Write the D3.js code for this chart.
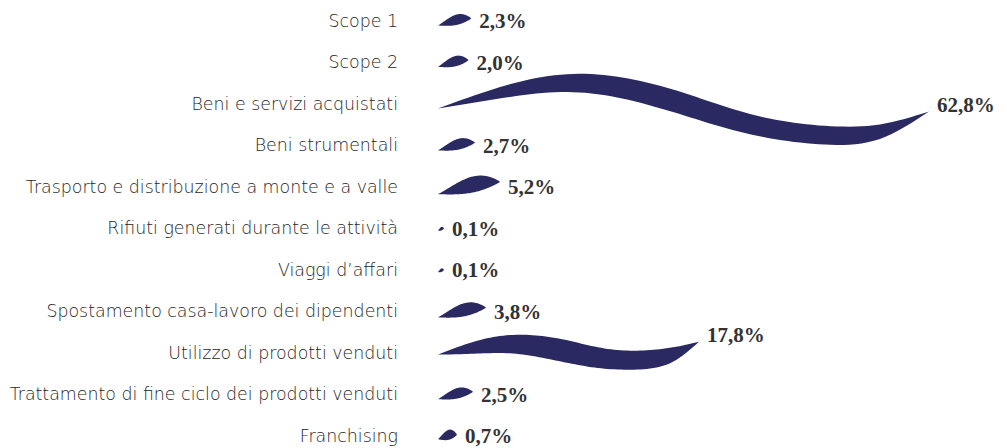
<!DOCTYPE html>
<html>
<head>
<meta charset="utf-8">
<script src="https://cdn.jsdelivr.net/npm/d3@7"></script>
<style>
  body { margin: 0; background: #fff; }
  svg { display: block; }
</style>
</head>
<body>
<div id="chart"></div>
<script>
// data
const categories = [
  'Scope 1',
  'Scope 2',
  'Beni e servizi acquistati',
  'Beni strumentali',
  'Trasporto e distribuzione a monte e a valle',
  'Rifiuti generati durante le attività',
  'Viaggi d\u2019affari',
  'Spostamento casa-lavoro dei dipendenti',
  'Utilizzo di prodotti venduti',
  'Trattamento di fine ciclo dei prodotti venduti',
  'Franchising'
];
const values = [2.3, 2.0, 62.8, 2.7, 5.2, 0.1, 0.1, 3.8, 17.8, 2.5, 0.7];

const width = 1007, height = 448;
const navy = '#2a2961';
const itFmt = d3.formatLocale({ decimal: ',', thousands: '.', grouping: [3], currency: ['', '\u20ac'] }).format('.1f');

const rows = categories.map((c, i) => ({ cat: c, value: values[i] }));

const y = d3.scalePoint().domain(categories).range([20.5, 435.5]);
const x0 = 438;

// mark length grows with the value, compressed for small shares
const len = d3.scaleLinear()
  .domain([0, 0.1, 0.7, 2.5, 5.2, 17.8, 62.8])
  .range([0, 6, 19, 35, 62, 261, 491]);
const leafThick = d3.scaleLinear().domain([0.1, 0.7, 2.5, 5.2]).range([3.5, 10, 10.5, 16]).clamp(true);
const waveAmp = d3.scaleLinear().domain([17.8, 62.8]).range([0.4, 1]);
const waveLift = d3.scaleLinear().domain([17.8, 62.8]).range([14, 0]);
const waveFrom = 10; // above this share the mark is drawn as a wave

// wave profile, evenly spaced along the length (centre offset, thickness)
const waveC = d3.interpolateBasis([5, -8, -19, -22, -14, 0, 17, 28, 33, 32, 8]);
const waveH = d3.interpolateBasis([0, 10, 16, 19, 22, 23, 21, 19, 19, 17, 0]);
const steps = d3.range(0, 1.0001, 1 / 80);

function profile(d) {
  const L = len(d.value);
  if (d.value >= waveFrom) {
    const k = waveAmp(d.value), lift = waveLift(d.value);
    return steps.map(t => {
      const c = k * waveC(t) - lift * Math.pow(t, 4);
      const h = waveH(t);
      return { x: x0 + t * L, top: c - h / 2, bot: c + h / 2 };
    });
  }
  // small shares: a leaf, flat underneath and bulging on top
  const w = leafThick(d.value);
  const rise = 0.18 * L + 1;
  const yL = rise / 2 + 1.5;
  return steps.map(t => {
    const chord = yL - rise * Math.pow(t, 1.2);
    const h = w * Math.pow(Math.sin(Math.PI * Math.pow(t, 1.25)), 0.85);
    return { x: x0 + t * L, top: chord - 0.72 * h, bot: chord + 0.28 * h };
  });
}

const edge = d3.line();

function shapePath(d) {
  const cy = y(d.cat);
  const pts = profile(d);
  const top = pts.map(p => [p.x, cy + p.top]);
  const bot = pts.map(p => [p.x, cy + p.bot]).reverse();
  return edge(top.concat(bot)) + 'Z';
}

function tipY(d) {
  const pts = profile(d);
  return y(d.cat) + pts[pts.length - 1].top;
}

const svg = d3.select('#chart').append('svg')
  .attr('width', width)
  .attr('height', height);

// category labels
svg.append('g')
  .selectAll('text')
  .data(rows)
  .enter()
  .append('text')
    .attr('x', 398)
    .attr('y', d => y(d.cat))
    .attr('dy', '0.35em')
    .attr('text-anchor', 'end')
    .style('font-family', '"DejaVu Sans", sans-serif')
    .style('font-size', '17.4px')
    .style('font-weight', 300)
    .style('fill', '#262626')
    .text(d => d.cat);

// marks
svg.append('g')
  .selectAll('path')
  .data(rows)
  .enter()
  .append('path')
    .attr('d', shapePath)
    .attr('fill', navy);

// value labels
svg.append('g')
  .selectAll('text')
  .data(rows)
  .enter()
  .append('text')
    .attr('x', d => x0 + len(d.value) + 8)
    .attr('y', d => d.value >= waveFrom ? tipY(d) - 7 : y(d.cat) + 0.5)
    .attr('dy', '0.35em')
    .style('font-family', '"Liberation Serif", "Times New Roman", serif')
    .style('font-size', '21px')
    .style('font-weight', 'bold')
    .style('fill', '#333')
    .text(d => itFmt(d.value) + '%');
</script>
</body>
</html>
